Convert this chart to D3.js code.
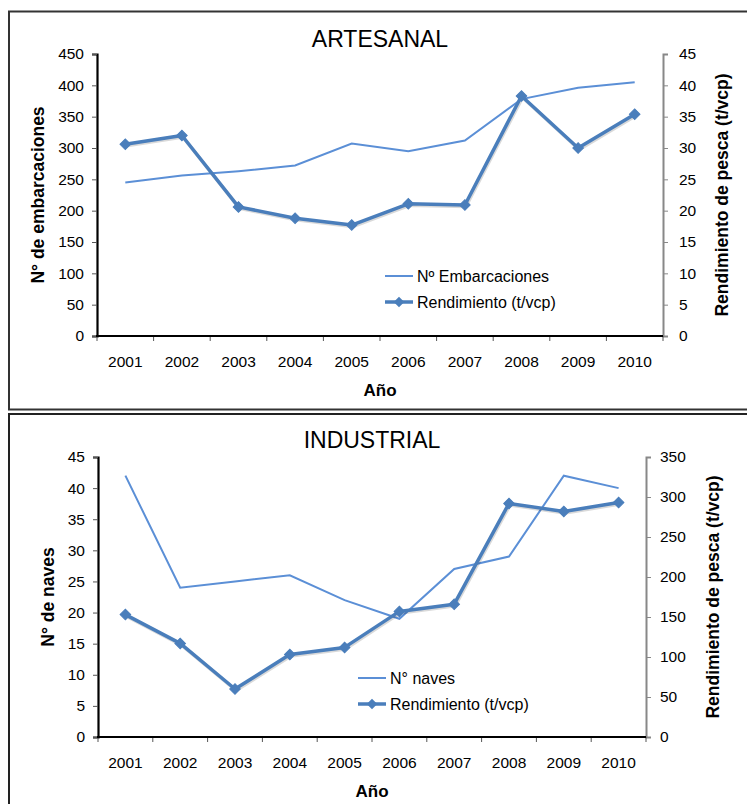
<!DOCTYPE html>
<html>
<head>
<meta charset="utf-8">
<script src="https://cdn.jsdelivr.net/npm/d3@7"></script>
<style>
  html, body { margin: 0; padding: 0; background: #fff; }
  svg { display: block; font-family: "Liberation Sans", Arial, sans-serif; }
</style>
</head>
<body>
<svg id="chart" width="747" height="804"></svg>
<script>
// ---------- data ----------
const years = ["2001","2002","2003","2004","2005","2006","2007","2008","2009","2010"];

// ARTESANAL
const artEmbarcaciones = [245, 256, 263, 272, 307, 295, 312, 378, 396, 405];
const artRendimiento   = [30.6, 32.0, 20.6, 18.8, 17.7, 21.1, 20.9, 38.3, 30.0, 35.4];
const artLeftTicks  = [0, 50, 100, 150, 200, 250, 300, 350, 400, 450];
const artRightTicks = [0, 5, 10, 15, 20, 25, 30, 35, 40, 45];

// INDUSTRIAL
const indNaves       = [42, 24, 25, 26, 22, 19, 27, 29, 42, 40];
const indRendimiento = [153, 117, 60, 103, 112, 157, 166, 292, 282, 293];
const indLeftTicks  = [0, 5, 10, 15, 20, 25, 30, 35, 40, 45];
const indRightTicks = [0, 50, 100, 150, 200, 250, 300, 350];

const svg = d3.select("#chart");
const thinColor = "#5b8fd6";
const thickColor = "#4a7ebb";
const FONT = "'Liberation Sans', Arial, sans-serif";

// frames
svg.append("rect").attr("x", 9).attr("y", 11.5).attr("width", 760).attr("height", 398)
  .attr("fill", "none").attr("stroke", "#333").attr("stroke-width", 2);
svg.append("rect").attr("x", 9).attr("y", 414).attr("width", 760).attr("height", 420)
  .attr("fill", "none").attr("stroke", "#222").attr("stroke-width", 2);

function panel(cfg) {
  const x = d3.scaleBand().domain(years).range([cfg.left, cfg.right]);
  const yL = d3.scaleLinear().domain([0, d3.max(cfg.leftTicks)]).range([cfg.bottom, cfg.top]);
  const yR = d3.scaleLinear().domain([0, d3.max(cfg.rightTicks)]).range([cfg.bottom, cfg.top]);
  const g = svg.append("g").attr("font-family", FONT);

  // title
  g.append("text").attr("x", (cfg.left + cfg.right) / 2).attr("y", cfg.titleY)
    .attr("text-anchor", "middle").attr("font-size", 23).attr("fill", "#000").text(cfg.title);

  // left axis
  const la = g.append("g").attr("transform", `translate(${cfg.left},0)`)
    .call(d3.axisLeft(yL).tickValues(cfg.leftTicks).tickSize(5).tickPadding(8).tickFormat(d3.format("d")));
  la.attr("font-family", FONT);
  la.select(".domain").attr("stroke", "#000").attr("stroke-width", 2.2);
  la.selectAll(".tick line").attr("stroke", "#555").attr("stroke-width", 1);
  la.selectAll(".tick text").attr("font-size", 15.5).attr("fill", "#000");

  // right axis
  const ra = g.append("g").attr("transform", `translate(${cfg.right},0)`)
    .call(d3.axisRight(yR).tickValues(cfg.rightTicks).tickSize(5).tickPadding(cfg.rightPad).tickFormat(d3.format("d")));
  ra.attr("font-family", FONT);
  ra.select(".domain").attr("stroke", "#888").attr("stroke-width", 2);
  ra.selectAll(".tick line").attr("stroke", "#888").attr("stroke-width", 1);
  ra.selectAll(".tick text").attr("font-size", 15.5).attr("fill", "#000");

  // bottom axis
  const ba = g.append("g").attr("transform", `translate(0,${cfg.bottom})`)
    .call(d3.axisBottom(x).tickSize(0).tickPadding(cfg.xPad));
  ba.attr("font-family", FONT);
  ba.select(".domain").remove();
  ba.selectAll(".tick text").attr("font-size", 15.5).attr("fill", "#000");
  // boundary ticks
  const bounds = years.map(y => x(y)).concat([cfg.right]);
  g.selectAll(null).data(bounds).enter().append("line")
    .attr("x1", d => d).attr("x2", d => d)
    .attr("y1", cfg.bottom).attr("y2", cfg.bottom + 5)
    .attr("stroke", "#555").attr("stroke-width", 1);
  g.append("line").attr("x1", cfg.left - 1).attr("x2", cfg.right)
    .attr("y1", cfg.bottom).attr("y2", cfg.bottom)
    .attr("stroke", "#000").attr("stroke-width", 2.2);

  // axis titles
  g.append("text").attr("transform", `translate(${cfg.leftTitleX},${(cfg.top + cfg.bottom) / 2}) rotate(-90)`)
    .attr("text-anchor", "middle").attr("font-size", 17.5).attr("font-weight", "bold").text(cfg.leftTitle);
  g.append("text").attr("transform", `translate(${cfg.rightTitleX},${(cfg.top + cfg.bottom) / 2}) rotate(-90)`)
    .attr("text-anchor", "middle").attr("font-size", 17.5).attr("font-weight", "bold").text("Rendimiento de pesca (t/vcp)");
  g.append("text").attr("x", (cfg.left + cfg.right) / 2).attr("y", cfg.xTitleY)
    .attr("text-anchor", "middle").attr("font-size", 17).attr("font-weight", "bold").text("Año");

  const cx = i => x(years[i]) + x.bandwidth() / 2;

  // thin series (left axis)
  const lineL = d3.line().x((d, i) => cx(i)).y(d => yL(d));
  g.append("path").datum(cfg.seriesL).attr("d", lineL)
    .attr("fill", "none").attr("stroke", thinColor).attr("stroke-width", 2);

  // thick series (right axis)
  const lineR = d3.line().x((d, i) => cx(i)).y(d => yR(d));
  g.append("path").datum(cfg.seriesR).attr("d", lineR)
    .attr("transform", "translate(1,1.5)")
    .attr("fill", "none").attr("stroke", "rgba(0,0,0,0.15)").attr("stroke-width", 3.5).attr("stroke-linejoin", "round");
  g.append("path").datum(cfg.seriesR).attr("d", lineR)
    .attr("fill", "none").attr("stroke", thickColor).attr("stroke-width", 3.5).attr("stroke-linejoin", "round");
  const diamond = d3.symbol().type(d3.symbolSquare).size(56);
  g.selectAll(null).data(cfg.seriesR).enter().append("path")
    .attr("d", diamond)
    .attr("transform", (d, i) => `translate(${cx(i)},${yR(d)}) rotate(45)`)
    .attr("fill", thickColor).attr("stroke", thickColor).attr("stroke-width", 1);

  // legend
  const lx = cfg.legendX, ly1 = cfg.legendY, ly2 = cfg.legendY + 26;
  g.append("line").attr("x1", lx).attr("x2", lx + 28).attr("y1", ly1).attr("y2", ly1)
    .attr("stroke", thinColor).attr("stroke-width", 2);
  g.append("text").attr("x", lx + 32).attr("y", ly1 + 5.5).attr("font-size", 16).text(cfg.legendL);
  g.append("line").attr("x1", lx).attr("x2", lx + 28).attr("y1", ly2).attr("y2", ly2)
    .attr("stroke", thickColor).attr("stroke-width", 3.5);
  g.append("path").attr("d", diamond).attr("transform", `translate(${lx + 14},${ly2}) rotate(45)`)
    .attr("fill", thickColor);
  g.append("text").attr("x", lx + 32).attr("y", ly2 + 5.5).attr("font-size", 16).text("Rendimiento (t/vcp)");
}

panel({
  title: "ARTESANAL", titleY: 47,
  left: 97, right: 663, top: 54, bottom: 336,
  leftTicks: artLeftTicks, rightTicks: artRightTicks,
  seriesL: artEmbarcaciones, seriesR: artRendimiento,
  leftTitle: "N° de embarcaciones", leftTitleX: 44, rightTitleX: 728,
  rightPad: 11, xPad: 20, xTitleY: 396,
  legendX: 385, legendY: 276, legendL: "Nº Embarcaciones"
});

panel({
  title: "INDUSTRIAL", titleY: 448,
  left: 98, right: 646, top: 457, bottom: 737,
  leftTicks: indLeftTicks, rightTicks: indRightTicks,
  seriesL: indNaves, seriesR: indRendimiento,
  leftTitle: "N° de naves", leftTitleX: 54, rightTitleX: 719,
  rightPad: 9, xPad: 20, xTitleY: 797,
  legendX: 358, legendY: 678, legendL: "N° naves"
});
</script>
</body>
</html>
